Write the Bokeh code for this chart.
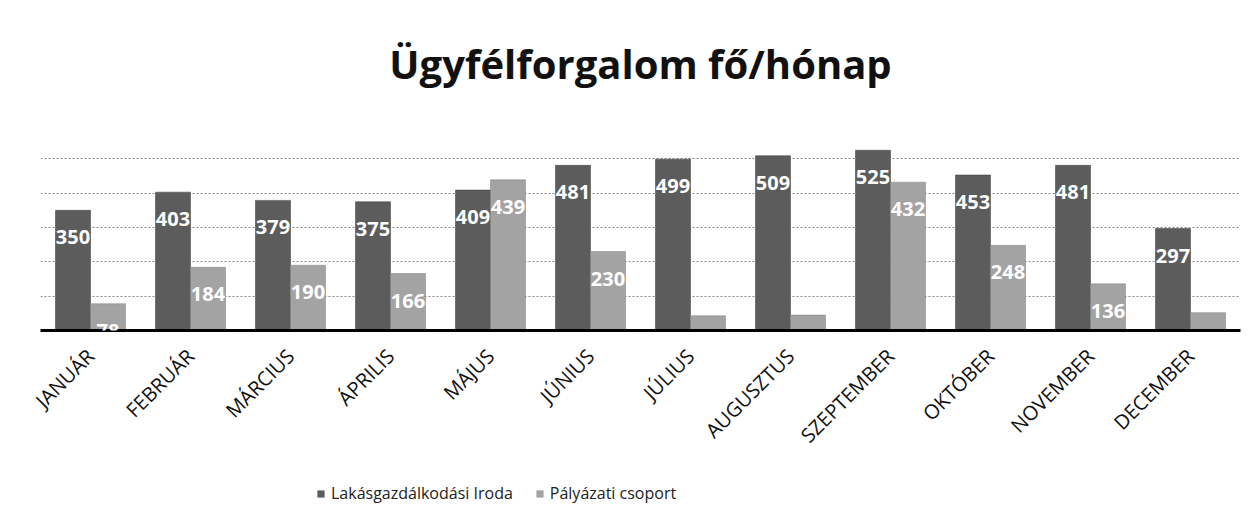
from bokeh.plotting import figure
from bokeh.models import ColumnDataSource, LabelSet, Legend, LegendItem, Range1d, FactorRange
from bokeh.layouts import column
from bokeh.core.properties import value
from bokeh.transform import dodge
from bokeh.embed import file_html
from bokeh.resources import INLINE
import math

months = ["JANUÁR", "FEBRUÁR", "MÁRCIUS", "ÁPRILIS", "MÁJUS", "JÚNIUS", "JÚLIUS",
          "AUGUSZTUS", "SZEPTEMBER", "OKTÓBER", "NOVEMBER", "DECEMBER"]
iroda = [350, 403, 379, 375, 409, 481, 499, 509, 525, 453, 481, 297]
palyazat = [78, 184, 190, 166, 439, 230, 43, 45, 432, 248, 136, 52]
series_names = ["Lakásgazdálkodási Iroda", "Pályázati csoport"]

DARK = "#5c5c5c"
LIGHT = "#a3a3a3"

src = ColumnDataSource(dict(
    m=months, a=iroda, b=palyazat,
    al=[str(v) for v in iroda],
))

p = figure(x_range=FactorRange(*months), y_range=Range1d(0, 600),
           width=1246, height=460, output_backend="svg", toolbar_location=None,
           min_border_left=40, min_border_right=6, min_border_top=120, min_border_bottom=130)

p.title.text = "Ügyfélforgalom fő/hónap"
p.title.align = "center"
p.title.text_font = "Open Sans"
p.title.text_font_style = "bold"
p.title.text_font_size = "40px"
p.title.text_color = "#111111"
p.title.standoff = 67

r1 = p.vbar(x=dodge("m", -0.175, range=p.x_range), top="a", width=0.35, source=src,
            fill_color=DARK, line_color="#3a3a3a", line_width=0.5)
r2 = p.vbar(x=dodge("m", 0.175, range=p.x_range), top="b", width=0.35, source=src,
            fill_color=LIGHT, line_color="#808080", line_width=0.5)

p.add_layout(LabelSet(x=dodge("m", -0.175, range=p.x_range), y="a", text="al", source=src,
                      y_offset=-27, text_align="center", text_baseline="middle",
                      text_color="white", text_font=value("Open Sans"),
                      text_font_style="bold", text_font_size="20px"))
lab_b = ColumnDataSource(dict(
    m=[mm for mm, v in zip(months, palyazat) if v >= 50],
    b=[v for v in palyazat if v >= 50],
    bl=[str(v) for v in palyazat if v >= 50],
))
p.add_layout(LabelSet(x=dodge("m", 0.175, range=p.x_range), y="b", text="bl", source=lab_b,
                      y_offset=-27, text_align="center", text_baseline="middle",
                      text_color="white", text_font=value("Open Sans"),
                      text_font_style="bold", text_font_size="20px"))

p.yaxis.visible = False
p.xaxis.axis_line_color = "black"
p.xaxis.axis_line_width = 3
p.xaxis.major_tick_line_color = None
p.xaxis.minor_tick_line_color = None
p.xaxis.major_label_orientation = math.pi / 4
p.xaxis.major_label_text_font = "Open Sans"
p.xaxis.major_label_text_font_size = "20px"
p.xaxis.major_label_text_color = "#111111"
p.xaxis.major_label_standoff = 16
p.x_range.range_padding = 0
p.x_range.group_padding = 0

p.xgrid.grid_line_color = None
p.ygrid.grid_line_color = "#888888"
p.ygrid.grid_line_dash = "2 2"
p.ygrid.grid_line_width = 1
p.yaxis.ticker = [100, 200, 300, 400, 500, 600]
p.outline_line_color = None

# legend strip below the chart (its bars lie far outside its visible range)
p2 = figure(x_range=FactorRange(*months), y_range=Range1d(5000, 6000),
            width=1246, height=60, output_backend="svg", toolbar_location=None,
            min_border=0)
p2.axis.visible = False
p2.grid.visible = False
p2.outline_line_color = None
d1 = p2.vbar(x="m", top="a", width=0.35, source=src, fill_color=DARK, line_color=None)
d2 = p2.vbar(x="m", top="b", width=0.35, source=src, fill_color=LIGHT, line_color=None)
legend = Legend(items=[LegendItem(label=series_names[0], renderers=[d1]),
                       LegendItem(label=series_names[1], renderers=[d2])],
                orientation="horizontal", location=(276, 16),
                label_text_font="Open Sans", label_text_font_size="16px",
                label_text_color="#222222", glyph_width=9, glyph_height=9,
                spacing=22, label_standoff=6, border_line_color=None,
                background_fill_alpha=0, padding=4, margin=0)
p2.add_layout(legend, "center")

open("out.html", "w").write(file_html(column(p, p2, spacing=0), INLINE))
